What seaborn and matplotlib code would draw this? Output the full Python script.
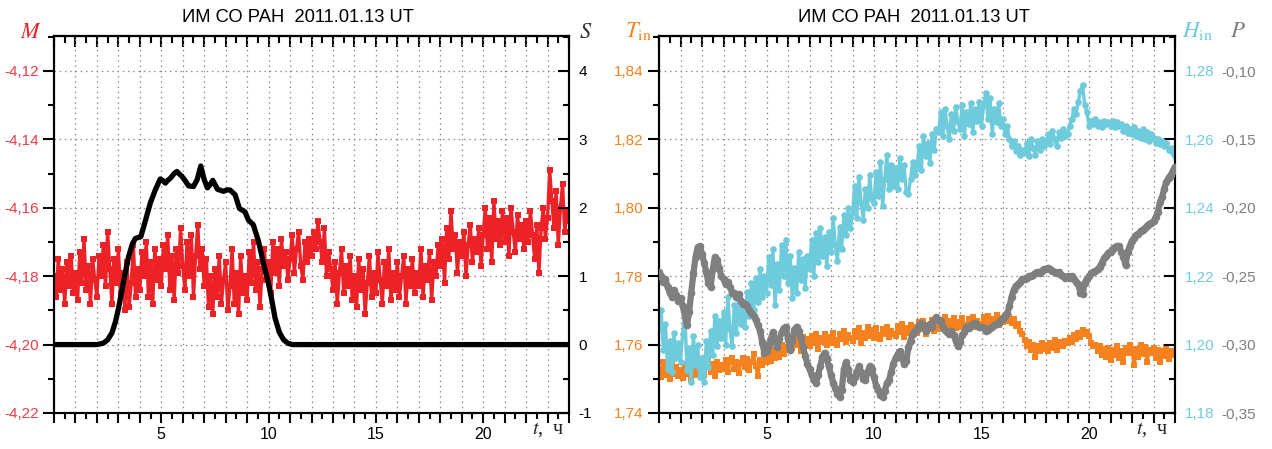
import numpy as np
import pandas as pd
import matplotlib
matplotlib.use("Agg")
import matplotlib.pyplot as plt
import seaborn as sns
from matplotlib.ticker import MultipleLocator, FuncFormatter

# ---------------------------------------------------------------- data
# sampling grid, hours UT (every 6 minutes)
hours = np.round(np.arange(241) * 0.1, 1)

# M, left panel (one row per hour)
m_values = [
    -4.180, -4.186, -4.175, -4.184, -4.178, -4.188, -4.176, -4.183, -4.174, -4.185,
    -4.179, -4.187, -4.173, -4.182, -4.169, -4.184, -4.177, -4.188, -4.175, -4.181,
    -4.186, -4.174, -4.180, -4.171, -4.183, -4.167, -4.178, -4.188, -4.175, -4.182,
    -4.172, -4.185, -4.179, -4.190, -4.176, -4.189, -4.182, -4.171, -4.186, -4.178,
    -4.184, -4.173, -4.180, -4.170, -4.186, -4.176, -4.188, -4.172, -4.181, -4.175,
    -4.183, -4.171, -4.178, -4.168, -4.184, -4.174, -4.187, -4.172, -4.179, -4.166,
    -4.177, -4.184, -4.170, -4.180, -4.168, -4.186, -4.174, -4.165, -4.178, -4.172,
    -4.183, -4.175, -4.189, -4.180, -4.191, -4.178, -4.186, -4.174, -4.188, -4.181,
    -4.176, -4.190, -4.183, -4.172, -4.188, -4.179, -4.191, -4.174, -4.185, -4.180,
    -4.187, -4.173, -4.182, -4.170, -4.184, -4.176, -4.189, -4.178, -4.172, -4.181,
    -4.176, -4.185, -4.170, -4.179, -4.172, -4.183, -4.169, -4.177, -4.173, -4.181,
    -4.175, -4.168, -4.179, -4.172, -4.167, -4.177, -4.181, -4.170, -4.176, -4.169,
    -4.174, -4.167, -4.172, -4.164, -4.170, -4.176, -4.166, -4.180, -4.173, -4.178,
    -4.184, -4.176, -4.188, -4.179, -4.172, -4.185, -4.177, -4.183, -4.174, -4.187,
    -4.180, -4.189, -4.175, -4.184, -4.178, -4.191, -4.182, -4.174, -4.186, -4.179,
    -4.185, -4.173, -4.181, -4.188, -4.176, -4.183, -4.172, -4.187, -4.179, -4.184,
    -4.176, -4.186, -4.180, -4.174, -4.188, -4.178, -4.183, -4.175, -4.185, -4.179,
    -4.183, -4.172, -4.186, -4.177, -4.181, -4.173, -4.187, -4.176, -4.180, -4.171,
    -4.177, -4.169, -4.182, -4.166, -4.175, -4.161, -4.172, -4.168, -4.179, -4.170,
    -4.174, -4.167, -4.180, -4.171, -4.165, -4.176, -4.169, -4.173, -4.166, -4.177,
    -4.168, -4.160, -4.172, -4.163, -4.176, -4.158, -4.169, -4.164, -4.171, -4.161,
    -4.170, -4.163, -4.174, -4.160, -4.167, -4.173, -4.162, -4.169, -4.165, -4.172,
    -4.164, -4.170, -4.161, -4.168, -4.175, -4.165, -4.179, -4.166, -4.160, -4.169,
    -4.163, -4.149, -4.158, -4.166, -4.155, -4.171, -4.160, -4.153, -4.167, -4.161,
    -4.164,
]

# S, left panel (right axis)
s_hours = [0.0, 2.0, 2.3, 2.5, 2.7, 2.86, 3.0, 3.17, 3.3, 3.48, 3.65, 3.79, 4.05,
           4.25, 4.49, 4.72, 4.95, 5.1, 5.19, 5.3, 5.42, 5.6, 5.73, 5.85, 5.96,
           6.1, 6.27, 6.5, 6.67, 6.84, 7.0, 7.15, 7.28, 7.4, 7.62, 7.9, 8.05,
           8.2, 8.44, 8.64, 8.9, 9.06, 9.29, 9.53, 9.76, 9.99, 10.15, 10.3, 10.5,
           10.7, 10.9, 11.1, 24.0]
s_values = [0.0, 0.0, 0.02, 0.07, 0.17, 0.33, 0.52, 0.80, 1.02, 1.29, 1.47, 1.55, 1.58,
            1.80, 2.07, 2.26, 2.42, 2.39, 2.36, 2.40, 2.43, 2.50, 2.53, 2.49, 2.46,
            2.40, 2.32, 2.31, 2.41, 2.61, 2.41, 2.29, 2.34, 2.40, 2.27, 2.24, 2.26,
            2.26, 2.19, 1.99, 1.94, 1.82, 1.75, 1.51, 1.19, 0.90, 0.65, 0.39, 0.18,
            0.07, 0.02, 0.0, 0.0]

# T_in, right panel (left axis)
t_in_values = [
    1.7530, 1.7505, 1.7548, 1.7512, 1.7538, 1.7500, 1.7553, 1.7515, 1.7535, 1.7508,
    1.7526, 1.7502, 1.7544, 1.7514, 1.7530, 1.7498, 1.7540, 1.7510, 1.7532, 1.7518,
    1.7545, 1.7510, 1.7538, 1.7562, 1.7520, 1.7542, 1.7508, 1.7550, 1.7525, 1.7540,
    1.7530, 1.7555, 1.7520, 1.7548, 1.7562, 1.7528, 1.7550, 1.7518, 1.7545, 1.7560,
    1.7535, 1.7558, 1.7525, 1.7550, 1.7572, 1.7538, 1.7508, 1.7556, 1.7540, 1.7565,
    1.7548, 1.7570, 1.7552, 1.7585, 1.7560, 1.7590, 1.7565, 1.7598, 1.7572, 1.7592,
    1.7585, 1.7612, 1.7590, 1.7628, 1.7598, 1.7618, 1.7580, 1.7622, 1.7600, 1.7615,
    1.7595, 1.7625, 1.7605, 1.7630, 1.7588, 1.7620, 1.7608, 1.7632, 1.7598, 1.7622,
    1.7605, 1.7635, 1.7612, 1.7598, 1.7630, 1.7615, 1.7640, 1.7608, 1.7628, 1.7618,
    1.7610, 1.7640, 1.7622, 1.7648, 1.7605, 1.7635, 1.7618, 1.7650, 1.7625, 1.7642,
    1.7620, 1.7648, 1.7628, 1.7615, 1.7645, 1.7630, 1.7652, 1.7622, 1.7640, 1.7632,
    1.7625, 1.7655, 1.7638, 1.7660, 1.7622, 1.7648, 1.7635, 1.7658, 1.7640, 1.7652,
    1.7635, 1.7665, 1.7645, 1.7670, 1.7632, 1.7658, 1.7648, 1.7672, 1.7640, 1.7662,
    1.7645, 1.7672, 1.7652, 1.7680, 1.7640, 1.7668, 1.7655, 1.7678, 1.7648, 1.7665,
    1.7650, 1.7678, 1.7658, 1.7645, 1.7675, 1.7662, 1.7680, 1.7652, 1.7670, 1.7660,
    1.7655, 1.7682, 1.7662, 1.7685, 1.7648, 1.7675, 1.7665, 1.7686, 1.7658, 1.7678,
    1.7665, 1.7685, 1.7670, 1.7680, 1.7662, 1.7675, 1.7655, 1.7660, 1.7640, 1.7630,
    1.7612, 1.7595, 1.7608, 1.7585, 1.7600, 1.7565, 1.7595, 1.7580, 1.7605, 1.7588,
    1.7598, 1.7580, 1.7605, 1.7590, 1.7612, 1.7585, 1.7600, 1.7608, 1.7595, 1.7610,
    1.7605, 1.7620, 1.7608, 1.7628, 1.7615, 1.7635, 1.7622, 1.7642, 1.7630, 1.7638,
    1.7625, 1.7605, 1.7595, 1.7600, 1.7580, 1.7595, 1.7570, 1.7588, 1.7565, 1.7590,
    1.7555, 1.7585, 1.7570, 1.7595, 1.7560, 1.7582, 1.7548, 1.7590, 1.7575, 1.7598,
    1.7580, 1.7540, 1.7588, 1.7565, 1.7600, 1.7572, 1.7592, 1.7550, 1.7585, 1.7575,
    1.7590, 1.7560, 1.7585, 1.7548, 1.7580, 1.7568, 1.7592, 1.7558, 1.7582, 1.7570,
    1.7575,
]

# H_in, right panel (first right axis)
h_in_values = [
    1.2045, 1.2100, 1.1985, 1.2060, 1.1930, 1.2010, 1.1920, 1.2035, 1.1960, 1.2005,
    1.1950, 1.2030, 1.2100, 1.1925, 1.1990, 1.1890, 1.2025, 1.1940, 1.2000, 1.1905,
    1.1960, 1.1890, 1.2010, 1.1935, 1.2040, 1.1970, 1.2085, 1.1995, 1.2070, 1.2020,
    1.2095, 1.2000, 1.2140, 1.2045, 1.1995, 1.2115, 1.2035, 1.2145, 1.2060, 1.2120,
    1.2050, 1.2155, 1.2085, 1.2180, 1.2100, 1.2195, 1.2125, 1.2220, 1.2140, 1.2200,
    1.2150, 1.2255, 1.2175, 1.2280, 1.2115, 1.2235, 1.2160, 1.2290, 1.2200, 1.2305,
    1.2180, 1.2260, 1.2135, 1.2225, 1.2150, 1.2270, 1.2190, 1.2250, 1.2165, 1.2260,
    1.2220, 1.2305, 1.2200, 1.2325, 1.2240, 1.2340, 1.2260, 1.2315, 1.2230, 1.2330,
    1.2270, 1.2370, 1.2290, 1.2245, 1.2345, 1.2280, 1.2380, 1.2320, 1.2400, 1.2340,
    1.2385, 1.2465, 1.2370, 1.2490, 1.2415, 1.2365, 1.2455, 1.2400, 1.2495, 1.2425,
    1.2415, 1.2505, 1.2435, 1.2535, 1.2405, 1.2485, 1.2555, 1.2455, 1.2525, 1.2465,
    1.2515, 1.2455, 1.2545, 1.2485, 1.2525, 1.2445, 1.2440, 1.2485, 1.2535, 1.2495,
    1.2520, 1.2580, 1.2510, 1.2610, 1.2550, 1.2590, 1.2530, 1.2615, 1.2570, 1.2630,
    1.2620, 1.2680, 1.2610, 1.2690, 1.2640, 1.2600, 1.2675, 1.2625, 1.2695, 1.2650,
    1.2630, 1.2700, 1.2610, 1.2680, 1.2645, 1.2705, 1.2620, 1.2690, 1.2655, 1.2710,
    1.2640, 1.2700, 1.2735, 1.2660, 1.2720, 1.2615, 1.2690, 1.2650, 1.2705, 1.2640,
    1.2660, 1.2615, 1.2640, 1.2600, 1.2580, 1.2595, 1.2565, 1.2580, 1.2555, 1.2570,
    1.2560, 1.2590, 1.2550, 1.2600, 1.2575, 1.2555, 1.2595, 1.2570, 1.2600, 1.2580,
    1.2590, 1.2615, 1.2585, 1.2625, 1.2600, 1.2580, 1.2620, 1.2605, 1.2630, 1.2610,
    1.2615, 1.2640, 1.2660, 1.2690, 1.2675, 1.2710, 1.2740, 1.2760, 1.2700, 1.2680,
    1.2640, 1.2655, 1.2645, 1.2660, 1.2640, 1.2650, 1.2635, 1.2655, 1.2645, 1.2650,
    1.2640, 1.2655, 1.2635, 1.2650, 1.2640, 1.2645, 1.2625, 1.2640, 1.2618, 1.2630,
    1.2615, 1.2635, 1.2610, 1.2625, 1.2605, 1.2630, 1.2600, 1.2620, 1.2595, 1.2615,
    1.2605, 1.2590, 1.2600, 1.2585, 1.2595, 1.2580, 1.2590, 1.2570, 1.2575, 1.2560,
    1.2550,
]

# P, right panel (second right axis)
p_values = [
    -0.247, -0.250, -0.254, -0.252, -0.258, -0.262, -0.265, -0.260, -0.264, -0.268,
    -0.266, -0.272, -0.278, -0.286, -0.276, -0.262, -0.248, -0.236, -0.229, -0.228,
    -0.234, -0.240, -0.247, -0.255, -0.258, -0.245, -0.236, -0.238, -0.244, -0.250,
    -0.252, -0.256, -0.254, -0.258, -0.262, -0.262, -0.265, -0.263, -0.268, -0.270,
    -0.270, -0.272, -0.275, -0.277, -0.279, -0.282, -0.286, -0.290, -0.298, -0.306,
    -0.305, -0.300, -0.296, -0.291, -0.297, -0.302, -0.296, -0.291, -0.288, -0.287,
    -0.296, -0.304, -0.297, -0.289, -0.287, -0.290, -0.295, -0.302, -0.308, -0.314,
    -0.318, -0.322, -0.326, -0.328, -0.322, -0.316, -0.309, -0.306, -0.310, -0.316,
    -0.322, -0.328, -0.332, -0.336, -0.338, -0.333, -0.318, -0.313, -0.318, -0.326,
    -0.327, -0.324, -0.320, -0.316, -0.320, -0.325, -0.326, -0.320, -0.316, -0.318,
    -0.324, -0.330, -0.333, -0.337, -0.338, -0.334, -0.328, -0.326, -0.320, -0.314,
    -0.310, -0.307, -0.305, -0.310, -0.314, -0.312, -0.302, -0.297, -0.292, -0.290,
    -0.289, -0.286, -0.284, -0.286, -0.290, -0.288, -0.285, -0.287, -0.282, -0.280,
    -0.282, -0.283, -0.287, -0.289, -0.291, -0.292, -0.290, -0.293, -0.297, -0.301,
    -0.298, -0.293, -0.291, -0.287, -0.288, -0.286, -0.285, -0.284, -0.286, -0.287,
    -0.287, -0.288, -0.290, -0.289, -0.288, -0.287, -0.286, -0.285, -0.284, -0.282,
    -0.281, -0.279, -0.277, -0.272, -0.265, -0.260, -0.257, -0.256, -0.254, -0.252,
    -0.252, -0.251, -0.250, -0.250, -0.249, -0.248, -0.247, -0.248, -0.246, -0.245,
    -0.245, -0.244, -0.245, -0.246, -0.247, -0.248, -0.247, -0.249, -0.250, -0.251,
    -0.250, -0.251, -0.250, -0.252, -0.254, -0.256, -0.262, -0.263, -0.255, -0.252,
    -0.250, -0.248, -0.247, -0.246, -0.245, -0.243, -0.240, -0.237, -0.235, -0.233,
    -0.232, -0.230, -0.229, -0.228, -0.228, -0.232, -0.236, -0.242, -0.232, -0.228,
    -0.224, -0.222, -0.220, -0.219, -0.217, -0.216, -0.215, -0.213, -0.212, -0.211,
    -0.210, -0.207, -0.203, -0.196, -0.192, -0.186, -0.181, -0.178, -0.176, -0.173,
    -0.170,
]

title_text = "ИМ СО РАН  2011.01.13 UT"

# ---------------------------------------------------------------- style
sns.set_theme(style="white")
plt.rcParams["font.family"] = ["Liberation Sans", "DejaVu Sans"]
plt.rcParams["mathtext.fontset"] = "stix"
plt.rcParams["axes.unicode_minus"] = False

RED = "#ec2227"
RED_LABEL = "#ef3b44"
ORANGE = "#f5821f"
BLUE = "#6ecbdc"
GRAY = "#7f7f7f"
GRID = "#8a8a8a"
TICK_FS = 11

W, H = 1272, 449
fig = plt.figure(figsize=(W / 100, H / 100), dpi=100)


def px_rect(x0, y0, x1, y1):
    return [x0 / W, 1 - y1 / H, (x1 - x0) / W, (y1 - y0) / H]


def comma(dec):
    return FuncFormatter(lambda v, p: f"{v:.{dec}f}".replace(".", ","))


def hour_axis(ax):
    ax.set_xlim(0, 24)
    ax.xaxis.set_major_locator(MultipleLocator(1))
    ax.xaxis.set_minor_locator(MultipleLocator(0.5))
    ax.xaxis.set_major_formatter(FuncFormatter(
        lambda v, p: f"{v:.0f}" if (0 < v < 24 and round(v) % 5 == 0) else ""))
    ax.tick_params(axis="x", which="major", direction="out", length=7, width=1.5,
                   pad=3, labelsize=TICK_FS + 0.5, color="black", labelcolor="black", bottom=True)
    ax.tick_params(axis="x", which="minor", direction="out", length=4, width=1.5,
                   color="black", bottom=True)
    top = ax.secondary_xaxis("top")
    top.xaxis.set_major_locator(MultipleLocator(1))
    top.xaxis.set_minor_locator(MultipleLocator(0.5))
    top.tick_params(which="major", direction="in", length=8, width=1.5, labeltop=False, color="black")
    top.tick_params(which="minor", direction="in", length=5, width=1.5, color="black")
    top.spines["top"].set_linewidth(1.5)
    top.spines["top"].set_color("black")
    ax.grid(True, which="major", color=GRID, linestyle=(0, (1.2, 3)), linewidth=0.9)
    ax.set_axisbelow(True)
    for sp in ax.spines.values():
        sp.set_linewidth(1.5)
        sp.set_color("black")


def y_left(ax, lo, hi, major, minor, dec, color):
    ax.set_ylim(lo, hi)
    ax.yaxis.set_major_locator(MultipleLocator(major))
    ax.yaxis.set_minor_locator(MultipleLocator(minor))
    ax.yaxis.set_major_formatter(comma(dec))
    ax.tick_params(axis="y", which="major", direction="out", length=8, width=1.5,
                   pad=3, labelsize=TICK_FS, color="black", labelcolor=color, left=True)
    ax.tick_params(axis="y", which="minor", direction="out", length=4, width=1.5,
                   color="black", left=True)


def y_right(ax, lo, hi, major, minor, fmt, color):
    ax.set_ylim(lo, hi)
    ax.yaxis.set_major_locator(MultipleLocator(major))
    ax.yaxis.set_minor_locator(MultipleLocator(minor))
    ax.yaxis.set_major_formatter(fmt)
    ax.tick_params(axis="y", which="major", direction="in", length=8, width=1.5,
                   pad=7, labelsize=TICK_FS, color="black", labelcolor=color, right=True)
    ax.tick_params(axis="y", which="minor", direction="in", length=4, width=1.5,
                   color="black", right=True)
    for sp in ax.spines.values():
        sp.set_linewidth(1.5)
        sp.set_color("black")


# ---------------------------------------------------------------- left panel
ax_m = fig.add_axes(px_rect(54, 36, 569, 413))
ax_s = ax_m.twinx()

left_df = pd.DataFrame({"hour": hours, "M": m_values})
s_df = pd.DataFrame({"hour": s_hours, "S": s_values})

sns.lineplot(data=left_df, x="hour", y="M", ax=ax_m, color=RED, lw=2.4,
             marker="s", markersize=3.8, markeredgewidth=0, estimator=None, sort=False)
sns.lineplot(data=s_df, x="hour", y="S", ax=ax_s, color="black", lw=3.8,
             estimator=None, sort=False)

hour_axis(ax_m)
y_left(ax_m, -4.22, -4.1098, 0.02, 0.01, 2, RED_LABEL)
y_right(ax_s, -1, 4.51, 1, 0.5, FuncFormatter(lambda v, p: f"{v:.0f}"), "black")
for a in (ax_m, ax_s):
    a.set_xlabel("")
    a.set_ylabel("")

# ---------------------------------------------------------------- right panel
ax_t = fig.add_axes(px_rect(659, 36, 1175, 413))
ax_h = ax_t.twinx()
ax_p = ax_t.twinx()

right_df = pd.DataFrame({"hour": hours, "T": t_in_values, "H": h_in_values, "P": p_values})

sns.lineplot(data=right_df, x="hour", y="T", ax=ax_t, color=ORANGE, lw=2.4,
             marker="s", markersize=3.8, markeredgewidth=0, estimator=None, sort=False)
sns.lineplot(data=right_df, x="hour", y="H", ax=ax_h, color=BLUE, lw=2.4,
             marker="o", markersize=4.8, markeredgewidth=0, estimator=None, sort=False)
sns.lineplot(data=right_df, x="hour", y="P", ax=ax_p, color=GRAY, lw=4.5,
             marker="o", markersize=5.5, markeredgewidth=0, estimator=None, sort=False)

hour_axis(ax_t)
y_left(ax_t, 1.74, 1.8502, 0.02, 0.01, 2, ORANGE)
y_right(ax_h, 1.18, 1.2902, 0.02, 0.01, comma(2), BLUE)
ax_p.set_ylim(-0.35, -0.0744)
ax_p.yaxis.set_major_locator(MultipleLocator(0.05))
ax_p.yaxis.set_major_formatter(comma(2))
ax_p.tick_params(axis="y", which="both", length=0, pad=33.5, labelsize=TICK_FS,
                 labelcolor=GRAY, right=True)
for sp in ax_p.spines.values():
    sp.set_visible(False)
for a in (ax_t, ax_h, ax_p):
    a.set_xlabel("")
    a.set_ylabel("")

# ---------------------------------------------------------------- text
def ftext(x, y, s, **kw):
    fig.text(x / W, 1 - y / H, s, **kw)


ftext(298, 18, title_text, ha="center", va="center", fontsize=13.2, color="black")
ftext(914, 18, title_text, ha="center", va="center", fontsize=13.2, color="black")

serif = ["Liberation Serif", "DejaVu Serif"]
ftext(31, 38.5, r"$M$", ha="center", va="baseline", fontsize=16, color=RED)
ftext(586, 38.5, r"$S$", ha="center", va="baseline", fontsize=16, color="#333333")
ftext(638, 37, r"$T_{\mathrm{in}}$", ha="center", va="baseline", fontsize=16.5, color=ORANGE)
ftext(1197, 37, r"$H_{\mathrm{in}}$", ha="center", va="baseline", fontsize=16.5, color=BLUE)
ftext(1238, 37, r"$P$", ha="center", va="baseline", fontsize=16.5, color=GRAY)
ftext(548, 434, r"$t$,  ч", ha="center", va="baseline", fontsize=14.5, color="#222222", family=serif)
ftext(1152, 434, r"$t$,  ч", ha="center", va="baseline", fontsize=14.5, color="#222222", family=serif)

fig.savefig("out.png", dpi=100)
